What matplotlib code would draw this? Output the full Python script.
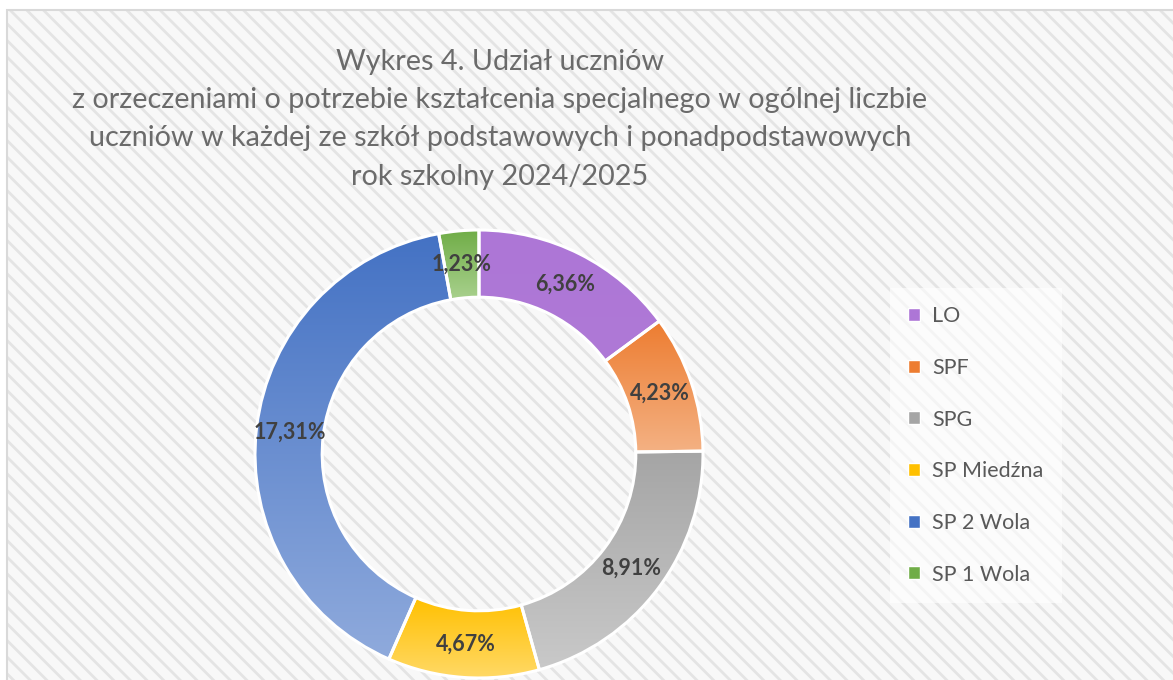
import numpy as np
import matplotlib
matplotlib.use("Agg")
import matplotlib.pyplot as plt
from matplotlib.patches import Rectangle, Patch
from matplotlib.colors import to_rgb

# dane z wykresu
szkoly = ["LO", "SPF", "SPG", "SP Miedźna", "SP 2 Wola", "SP 1 Wola"]
udzial = [6.36, 4.23, 8.91, 4.67, 17.31, 1.23]
etykiety = ["6,36%", "4,23%", "8,91%", "4,67%", "17,31%", "1,23%"]

# kolory: góra -> dół (gradient)
kolor_gora = ["#AD76D6", "#ED7D31", "#A5A5A5", "#FFC000", "#4472C4", "#70AD47"]
kolor_dol = ["#AF79D7", "#F4B183", "#C9C9C9", "#FFD966", "#8FAADC", "#A9D18E"]

tytul = ("Wykres 4. Udział uczniów\n"
         "z orzeczeniami o potrzebie kształcenia specjalnego w ogólnej liczbie\n"
         "uczniów w każdej ze szkół podstawowych i ponadpodstawowych\n"
         "rok szkolny 2024/2025")

plt.rcParams["font.family"] = ["Lato", "DejaVu Sans"]
plt.rcParams["hatch.linewidth"] = 2.0

W, H = 1173, 680
fig = plt.figure(figsize=(W / 100, H / 100), dpi=100, facecolor="white")

# tlo w paski
tlo = Rectangle((7 / W, 0), 1.0, 1 - 10 / H, transform=fig.transFigure,
                facecolor="#f8f8f8", edgecolor="#e4e4e4", linewidth=0,
                hatch="\\\\", zorder=-2)
fig.patches.append(tlo)
ramka = Rectangle((7 / W, -0.01), 1.0, 1 - 10 / H + 0.01, transform=fig.transFigure,
                  facecolor="none", edgecolor="#d9d9d9", linewidth=1.5, zorder=-1)
fig.patches.append(ramka)

# tytul
fig.text(500 / W, 1 - 49 / H, tytul, ha="center", va="top", fontsize=20.7,
         color="#6b6b6b", linespacing=1.58)

# wykres pierscieniowy
cx, cy, r = 479, 454, 224
ax = fig.add_axes([(cx - r) / W, (H - cy - r) / H, 2 * r / W, 2 * r / H])
ax.set_facecolor("none")
ax.axis("off")

wedges, _ = ax.pie(udzial, startangle=90, counterclock=False, radius=1,
                   wedgeprops=dict(width=0.30, edgecolor="white", linewidth=2.2))

for i, w in enumerate(wedges):
    w.set_facecolor("none")
    w.set_zorder(3)
    bb = w.get_path().get_extents()
    c1 = np.array(to_rgb(kolor_gora[i]))
    c2 = np.array(to_rgb(kolor_dol[i]))
    t = np.linspace(0, 1, 128)[:, None, None]
    grad = c1 * (1 - t) + c2 * t
    im = ax.imshow(grad, extent=[bb.x0, bb.x1, bb.y0, bb.y1], origin="upper",
                   aspect="auto", zorder=2, interpolation="bilinear")
    im.set_clip_path(w)

    kat = np.deg2rad((w.theta1 + w.theta2) / 2)
    ax.text(0.85 * np.cos(kat), 0.85 * np.sin(kat), etykiety[i], ha="center",
            va="center", fontsize=15.5, fontweight="bold", color="#404040", zorder=4)

ax.set_xlim(-1, 1)
ax.set_ylim(-1, 1)
ax.set_aspect("equal")

# legenda
uchwyty = [Patch(facecolor=kolor_gora[i], edgecolor="white", linewidth=1.0)
           for i in range(len(szkoly))]
leg = fig.legend(uchwyty, szkoly, loc="upper left",
                 bbox_to_anchor=(890 / W, 1 - 288 / H), fontsize=15.5,
                 frameon=True, fancybox=False, framealpha=0.6,
                 handlelength=0.55, handleheight=0.55, handletextpad=0.55,
                 labelspacing=1.47, borderpad=0.85, borderaxespad=0)
leg.get_frame().set_facecolor("white")
leg.get_frame().set_linewidth(0)
for tx in leg.get_texts():
    tx.set_color("#595959")

fig.savefig("out.png", dpi=100, facecolor="white")
